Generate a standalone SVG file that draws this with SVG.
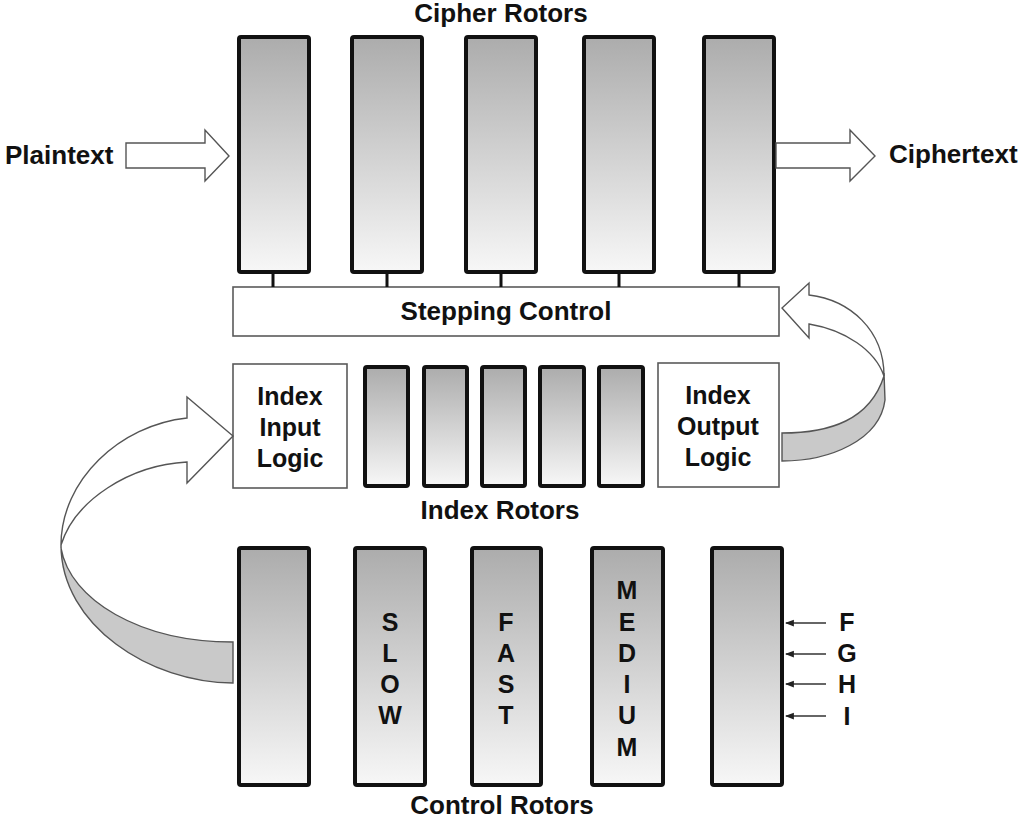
<svg xmlns="http://www.w3.org/2000/svg" width="1021" height="821" viewBox="0 0 1021 821">
  <defs>
    <linearGradient id="rotorFill" x1="0" y1="0" x2="0" y2="1">
      <stop offset="0" stop-color="#acacac"/>
      <stop offset="1" stop-color="#f7f7f7"/>
    </linearGradient>
    <marker id="tick" viewBox="0 0 8 8" refX="7" refY="4" markerWidth="6" markerHeight="6" orient="auto">
      <path d="M0,1 L8,4 L0,7 Z" fill="#222"/>
    </marker>
    <style>
      .rotor { fill: url(#rotorFill); stroke: #111; stroke-width: 4; }
      .box { fill: #fff; stroke: #5a5a5a; stroke-width: 1.6; }
      .blk { fill: #fff; stroke: #555; stroke-width: 1.4; stroke-linejoin: miter; }
      .band { fill: #c9c9c9; stroke: #555; stroke-width: 1.4; }
      .stub { stroke: #111; stroke-width: 3; }
      .feed { stroke: #333; stroke-width: 1.5; marker-end: url(#tick); }
      text { font-family: "Liberation Sans", Arial, sans-serif; font-weight: bold; fill: #111; }
      .lbl { font-size: 26px; }
      .boxt { font-size: 25px; text-anchor: middle; }
      .vt { font-size: 25px; text-anchor: middle; }
      .mid { text-anchor: middle; }
    </style>
  </defs>

  <!-- section titles -->
  <text class="lbl mid" x="501" y="22">Cipher Rotors</text>
  <text class="lbl mid" x="500" y="519">Index Rotors</text>
  <text class="lbl mid" x="502" y="814">Control Rotors</text>

  <!-- cipher rotors -->
  <g id="cipher-rotor-1"><rect class="rotor" x="239" y="37" width="70" height="235" rx="2"/></g>
  <g id="cipher-rotor-2"><rect class="rotor" x="352" y="37" width="70" height="235" rx="2"/></g>
  <g id="cipher-rotor-3"><rect class="rotor" x="466" y="37" width="70" height="235" rx="2"/></g>
  <g id="cipher-rotor-4"><rect class="rotor" x="584" y="37" width="70" height="235" rx="2"/></g>
  <g id="cipher-rotor-5"><rect class="rotor" x="704" y="37" width="70" height="235" rx="2"/></g>

  <!-- stepping control -->
  <g id="stepping-control">
    <rect class="box" x="233" y="287" width="546" height="49"/>
    <text class="lbl mid" x="506" y="320">Stepping Control</text>
  </g>

  <!-- index section -->
  <g id="index-input-logic">
    <rect class="box" x="233" y="364" width="114" height="124"/>
    <text class="boxt" x="290" y="405">Index</text>
    <text class="boxt" x="290" y="436">Input</text>
    <text class="boxt" x="290" y="467">Logic</text>
  </g>
  <g id="index-rotor-1"><rect class="rotor" x="365" y="367" width="43" height="119" rx="2"/></g>
  <g id="index-rotor-2"><rect class="rotor" x="424" y="367" width="43" height="119" rx="2"/></g>
  <g id="index-rotor-3"><rect class="rotor" x="482" y="367" width="43" height="119" rx="2"/></g>
  <g id="index-rotor-4"><rect class="rotor" x="540" y="367" width="44" height="119" rx="2"/></g>
  <g id="index-rotor-5"><rect class="rotor" x="599" y="367" width="44" height="119" rx="2"/></g>
  <g id="index-output-logic">
    <rect class="box" x="658" y="363" width="121" height="124"/>
    <text class="boxt" x="718" y="404">Index</text>
    <text class="boxt" x="718" y="435">Output</text>
    <text class="boxt" x="718" y="466">Logic</text>
  </g>

  <!-- control rotors -->
  <g id="control-rotor-1"><rect class="rotor" x="239" y="548" width="70" height="237" rx="2"/></g>
  <g id="control-rotor-slow">
    <rect class="rotor" x="355" y="548" width="70" height="237" rx="2"/>
    <text class="vt" x="390" y="631">S</text>
    <text class="vt" x="390" y="662">L</text>
    <text class="vt" x="390" y="693">O</text>
    <text class="vt" x="390" y="724">W</text>
  </g>
  <g id="control-rotor-fast">
    <rect class="rotor" x="472" y="548" width="69" height="237" rx="2"/>
    <text class="vt" x="506" y="631">F</text>
    <text class="vt" x="506" y="662">A</text>
    <text class="vt" x="506" y="693">S</text>
    <text class="vt" x="506" y="724">T</text>
  </g>
  <g id="control-rotor-medium">
    <rect class="rotor" x="592" y="548" width="71" height="237" rx="2"/>
    <text class="vt" x="627" y="599">M</text>
    <text class="vt" x="627" y="631">E</text>
    <text class="vt" x="627" y="662">D</text>
    <text class="vt" x="627" y="693">I</text>
    <text class="vt" x="627" y="724">U</text>
    <text class="vt" x="627" y="756">M</text>
  </g>
  <g id="control-rotor-5"><rect class="rotor" x="712" y="548" width="70" height="237" rx="2"/></g>

  <!-- input / output labels -->
  <g id="plaintext">
    <text class="lbl" x="5" y="164">Plaintext</text>
  </g>
  <g id="ciphertext">
    <text class="lbl" x="889" y="163">Ciphertext</text>
  </g>
  <g id="feed-labels">
    <text class="vt" x="847" y="631">F</text>
    <text class="vt" x="847" y="662">G</text>
    <text class="vt" x="847" y="693">H</text>
    <text class="vt" x="847" y="725">I</text>
  </g>

  <!-- connectors -->
  <g id="connectors">
    <!-- rotor stubs into stepping control -->
    <line class="stub" x1="273" y1="273" x2="273" y2="287"/>
    <line class="stub" x1="387" y1="273" x2="387" y2="287"/>
    <line class="stub" x1="501" y1="273" x2="501" y2="287"/>
    <line class="stub" x1="619" y1="273" x2="619" y2="287"/>
    <line class="stub" x1="739" y1="273" x2="739" y2="287"/>

    <!-- block arrows -->
    <path class="blk" d="M126,143 L205,143 L205,130 L229,156 L205,181 L205,168 L126,168 Z"/>
    <path class="blk" d="M776,143 L850,143 L850,130 L875,156 L850,181 L850,168 L776,168 Z"/>

    <!-- curved arrow: control rotors to index input logic -->
    <path class="band" d="M61,545 C61,625 150,683 233,683 L233,642 C140,642 70,600 61,548 Z"/>
    <path class="blk" d="M61,545 C61,480 120,425 187,418 L187,397 L233,436 L187,483 L187,462 C130,465 75,500 61,545 Z"/>

    <!-- curved arrow: index output logic to stepping control -->
    <path class="band" d="M884,373 L885,400 C880,440 830,461 782,461 L782,433 C830,433 870,420 884,376 Z"/>
    <path class="blk" d="M884,376 C884,330 850,300 809,295 L809,283 L782,308 L809,338 L809,324 C845,330 875,350 884,376 Z"/>

    <!-- external feeds into last control rotor -->
    <line class="feed" x1="826" y1="623" x2="786" y2="623"/>
    <line class="feed" x1="826" y1="654" x2="786" y2="654"/>
    <line class="feed" x1="826" y1="684" x2="786" y2="684"/>
    <line class="feed" x1="826" y1="716" x2="786" y2="716"/>
  </g>
</svg>
